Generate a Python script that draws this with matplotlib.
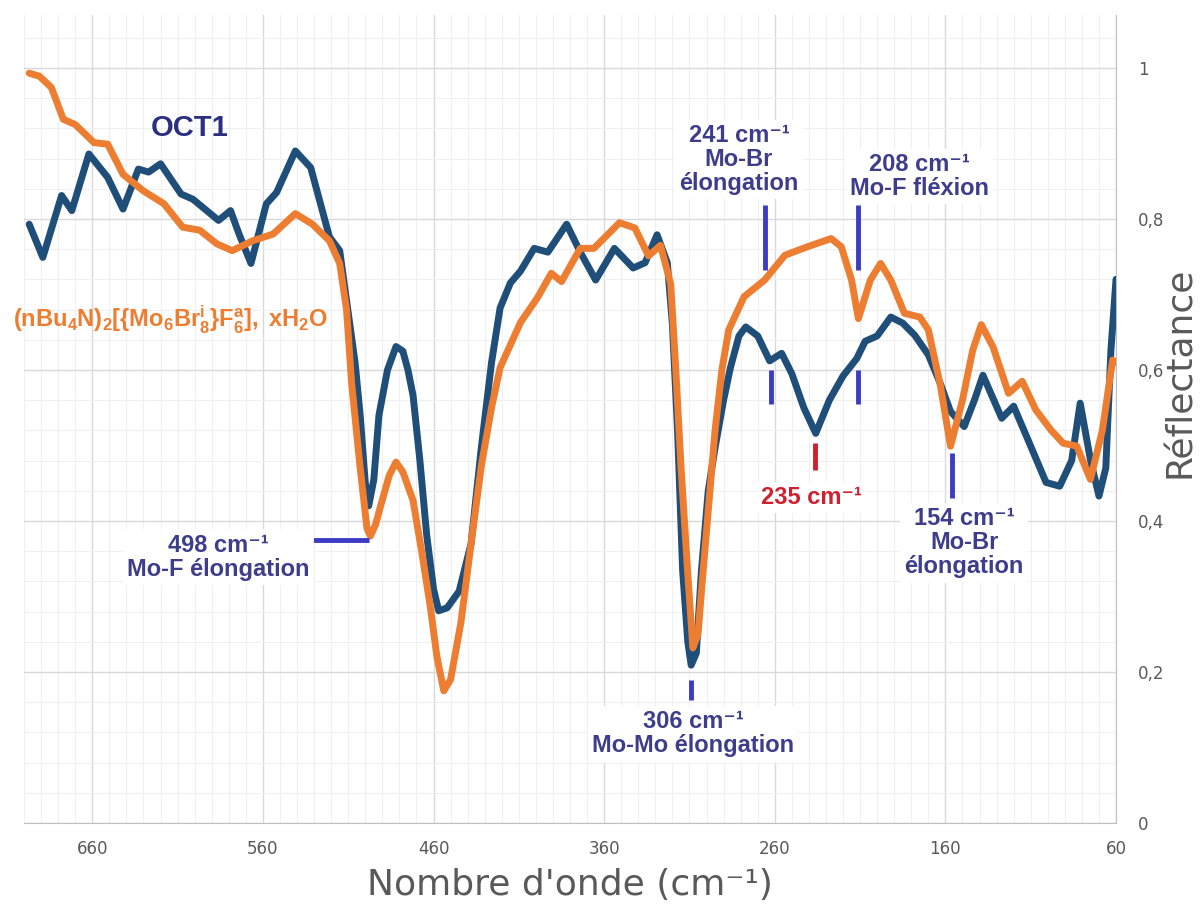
import numpy as np
import matplotlib
matplotlib.use("Agg")
import matplotlib.pyplot as plt

# OCT1 spectrum (wavenumber, reflectance)
oct1_x = [697, 689, 678, 672, 662, 651, 642, 633, 627, 620, 608, 601, 586, 579,
          574, 567, 558, 552, 541, 532, 521, 515, 511, 506, 503, 500, 498, 495,
          492, 487, 482, 478, 475, 472, 468, 464, 460, 457, 452, 445, 438, 432,
          426, 421, 415, 409, 401, 393, 382, 374, 365, 354, 343, 336, 329, 323,
          320, 317, 314, 311, 309, 306, 303, 299, 295, 290, 286, 281, 277, 270,
          263, 256, 250, 243, 236, 228, 220, 212, 207, 200, 192, 185, 178, 170,
          163, 157, 149, 143, 138, 127, 120, 110, 101, 93, 86, 81, 75, 70, 66,
          63, 60]
oct1_y = [0.793, 0.749, 0.831, 0.811, 0.886, 0.855, 0.813, 0.866, 0.862, 0.873,
          0.833, 0.826, 0.798, 0.811, 0.780, 0.741, 0.820, 0.835, 0.890, 0.868,
          0.776, 0.758, 0.692, 0.610, 0.540, 0.450, 0.420, 0.455, 0.540, 0.600,
          0.631, 0.625, 0.600, 0.566, 0.480, 0.381, 0.310, 0.281, 0.285, 0.307,
          0.370, 0.497, 0.610, 0.682, 0.715, 0.731, 0.761, 0.756, 0.793, 0.756,
          0.719, 0.761, 0.735, 0.742, 0.779, 0.742, 0.660, 0.520, 0.334, 0.240,
          0.209, 0.225, 0.334, 0.440, 0.497, 0.560, 0.603, 0.645, 0.657, 0.645,
          0.612, 0.622, 0.595, 0.550, 0.516, 0.560, 0.592, 0.615, 0.638, 0.645,
          0.670, 0.662, 0.646, 0.620, 0.582, 0.545, 0.525, 0.560, 0.593, 0.536,
          0.552, 0.499, 0.451, 0.446, 0.480, 0.556, 0.481, 0.433, 0.470, 0.626,
          0.720]

# (nBu4N)2[{Mo6Br8}F6] spectrum
ref_x = [697, 691, 684, 677, 670, 659, 651, 642, 630, 618, 607, 597, 587, 578,
         566, 554, 541, 531, 521, 515, 511, 508, 503, 499, 497, 494, 491, 486,
         482, 478, 472, 467, 462, 458, 454, 450, 444, 438, 432, 426, 421, 409,
         399, 391, 385, 374, 366, 351, 342, 334, 327, 321, 318, 315, 311, 308,
         305, 302, 298, 295, 291, 287, 278, 266, 254, 241, 227, 221, 215, 211,
         204, 198, 192, 184, 175, 170, 163, 157, 150, 144, 139, 132, 123, 115,
         107, 98, 91, 83, 75, 68, 62, 60]
ref_y = [0.993, 0.989, 0.974, 0.932, 0.925, 0.901, 0.899, 0.859, 0.837, 0.820,
         0.789, 0.785, 0.767, 0.758, 0.771, 0.780, 0.807, 0.793, 0.771, 0.741,
         0.680, 0.582, 0.470, 0.390, 0.380, 0.395, 0.420, 0.460, 0.478, 0.465,
         0.427, 0.360, 0.288, 0.220, 0.175, 0.190, 0.265, 0.370, 0.473, 0.550,
         0.603, 0.663, 0.696, 0.728, 0.717, 0.761, 0.761, 0.795, 0.788, 0.751,
         0.765, 0.714, 0.600, 0.473, 0.330, 0.232, 0.250, 0.334, 0.440, 0.520,
         0.600, 0.653, 0.697, 0.719, 0.752, 0.763, 0.774, 0.763, 0.719, 0.668,
         0.719, 0.741, 0.719, 0.675, 0.670, 0.653, 0.580, 0.499, 0.560, 0.626,
         0.660, 0.630, 0.569, 0.585, 0.547, 0.520, 0.503, 0.499, 0.455, 0.520,
         0.613, 0.610]

x_ticks = [660, 560, 460, 360, 260, 160, 60]
y_ticks = [0, 0.2, 0.4, 0.6, 0.8, 1.0]
y_tick_labels = ["0", "0,2", "0,4", "0,6", "0,8", "1"]

# annotation markers: (x0, x1, y0, y1, colour)
markers = [(548, 498, 0.375, 0.375, "#3b3bc4"),
           (309, 309, 0.163, 0.189, "#3b3bc4"),
           (265.8, 265.8, 0.733, 0.818, "#3b3bc4"),
           (262, 262, 0.555, 0.600, "#3b3bc4"),
           (211.5, 211.5, 0.733, 0.818, "#3b3bc4"),
           (211.5, 211.5, 0.555, 0.600, "#3b3bc4"),
           (156, 156, 0.431, 0.490, "#3b3bc4"),
           (236.7, 236.7, 0.468, 0.503, "#d0202e")]

# annotation texts: (x, y, text, colour)
labels = [(586, 0.352, "498 cm\u207b\u00b9\nMo-F élongation", "#3d3d8c"),
          (308, 0.118, "306 cm\u207b\u00b9\nMo-Mo élongation", "#3d3d8c"),
          (281, 0.879, "241 cm\u207b\u00b9\nMo-Br\nélongation", "#3d3d8c"),
          (175, 0.856, "208 cm\u207b\u00b9\nMo-F fléxion", "#3d3d8c"),
          (149, 0.371, "154 cm\u207b\u00b9\nMo-Br\nélongation", "#3d3d8c"),
          (238.6, 0.431, "235 cm\u207b\u00b9", "#d0202e")]

plt.rcParams["mathtext.fontset"] = "custom"
plt.rcParams["mathtext.rm"] = "Liberation Sans"
plt.rcParams["mathtext.bf"] = "Liberation Sans:bold"
plt.rcParams["mathtext.it"] = "Liberation Sans:italic"

bold_fam = ["Liberation Sans", "DejaVu Sans"]

fig = plt.figure(figsize=(12.03, 9.11), dpi=100)
ax = fig.add_axes([0.02, 0.0966, 0.9077, 0.8869])

ax.set_xlim(700, 60)
ax.set_ylim(0, 1.07)

ax.set_xticks(x_ticks)
ax.set_xticks(np.arange(60, 701, 10), minor=True)
ax.set_yticks(y_ticks)
ax.set_yticklabels(y_tick_labels)
ax.set_yticks(np.arange(0, 1.07, 0.04), minor=True)
ax.yaxis.tick_right()
ax.tick_params(which="both", length=0)
ax.tick_params(axis="x", pad=12, labelsize=12, labelcolor="#595959")
ax.tick_params(axis="y", pad=16, labelsize=12, labelcolor="#595959")

ax.grid(which="major", color="#d9d9d9", lw=1)
ax.grid(which="minor", color="#f0f0f0", lw=0.8)
ax.set_axisbelow(True)
for s in ["left", "top"]:
    ax.spines[s].set_visible(False)
for s in ["right", "bottom"]:
    ax.spines[s].set_color("#bfbfbf")

ax.plot(oct1_x, oct1_y, color="#1f4e79", lw=5, solid_joinstyle="round",
        solid_capstyle="round", zorder=3)
ax.plot(ref_x, ref_y, color="#ed7d31", lw=5, solid_joinstyle="round",
        solid_capstyle="round", zorder=4)

for x0, x1, y0, y1, c in markers:
    ax.plot([x0, x1], [y0, y1], color=c, lw=3.5, solid_capstyle="butt", zorder=5)

for x, y, t, c in labels:
    ax.text(x, y, t, ha="center", va="center", fontsize=17, fontweight="bold",
            color=c, family=bold_fam, linespacing=1.05, zorder=6,
            bbox=dict(fc="white", ec="none", pad=3))

ax.text(603, 0.92, "OCT1", ha="center", va="center", fontsize=21,
        fontweight="bold", color="#2b2f80", family=bold_fam, zorder=6)
ax.text(614, 0.666, r"$\mathbf{(nBu_4N)_2[\{Mo_6Br^i_8\}F^a_6],\ xH_2O}$",
        ha="center", va="center", fontsize=17, color="#ed7d31", zorder=6)

fig.text(1180 / 1203, 1 - 372 / 911, "Réflectance", rotation=90, ha="center",
         va="center", fontsize=26, color="#595959")
fig.text(570 / 1203, 1 - 885 / 911, "Nombre d'onde (cm\u207b\u00b9)", ha="center",
         va="center", fontsize=26, color="#595959")

fig.savefig("out.png", dpi=100)
